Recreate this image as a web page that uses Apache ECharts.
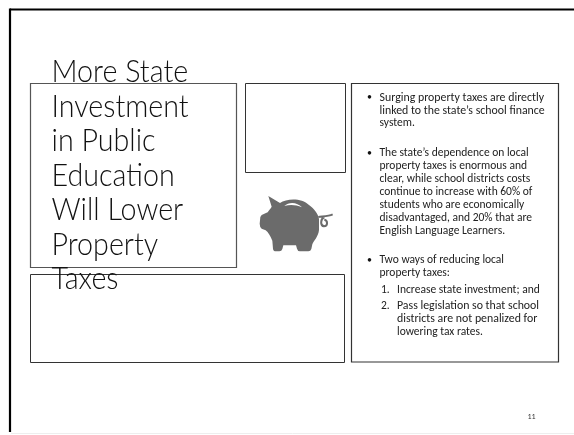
<!DOCTYPE html>
<html><head><meta charset="utf-8">
<style>html,body{margin:0;padding:0;background:#fff}#c{width:574px;height:435px}</style>
<script src="https://cdn.jsdelivr.net/npm/echarts@6/dist/echarts.min.js"></script>
</head><body><div id="c"></div>
<script>
const titleLines = ["More State","Investment","in Public","Education","Will Lower","Property","Taxes"];
const bulletOne = ["Surging property taxes are directly","linked to the state\u2019s school finance","system."];
const bulletTwo = ["The state\u2019s dependence on local","property taxes is enormous and","clear, while school districts costs","continue to increase with 60% of","students who are economically","disadvantaged, and 20% that are","English Language Learners."];
const bulletThree = ["Two ways of reducing local","property taxes:"];
const itemOne = ["Increase state investment; and"];
const itemTwo = ["Pass legislation so that school","districts are not penalized for","lowering tax rates."];
const pageNumber = "11";

const BODY = 'Carlito, Lato, "Open Sans", sans-serif';
const TITLE = 'Lato, "Open Sans", sans-serif';
const els = [];
function rect(x,y,w,h,c,lw){els.push({type:'rect',shape:{x,y,width:w,height:h},style:{fill:'none',stroke:c,lineWidth:lw}});}
function line(x1,y1,x2,y2,c,lw){els.push({type:'line',shape:{x1,y1,x2,y2},style:{stroke:c,lineWidth:lw}});}
function text(s,x,y,size,weight,color,sx,align){els.push({type:'text',x,y,originX:0,originY:0,scaleX:sx||1,style:{text:s,fill:color,font:`${weight} ${size}px ${size>20?TITLE:BODY}`,textAlign:align||'left',textVerticalAlign:'middle'}});}

// slide frame
line(10,9.5,574,9.5,'#000',2.2);
line(10,8.5,10,432,'#000',2.2);
line(11,433.5,574,433.5,'#eeeeee',1);

// placeholder boxes
rect(30.5,83.5,206,184,'#555',1.2);
rect(245.5,83.5,100,89,'#333',1);
rect(30.5,274.5,314,88,'#333',1);
rect(351.5,83.5,207,278.5,'#333',1.2);

// title
titleLines.forEach((s,i)=>text(s,51.5,72+i*34.55,31,300,'#111',0.925));

// bullets
const bx=379.5, dotx=367, FS=11.5, LH=12.95;
const put=(arr,y0,x0,sx)=>arr.forEach((s,i)=>text(s,x0,y0+i*LH,FS,400,'#222',sx[i]||1));
text('\u2022',dotx,97.5,10,400,'#111'); put(bulletOne,97.7,bx,[1.03,1.03,1]);
text('\u2022',dotx,153,10,400,'#111'); put(bulletTwo,153,bx,[]);
text('\u2022',dotx,260,10,400,'#111'); put(bulletThree,260,bx,[]);
text('1.',381,290.3,FS,400,'#222'); put(itemOne,290.3,397,[]);
text('2.',381,306.3,FS,400,'#222'); put(itemTwo,306.3,397,[1.03,1.03,1]);
text(pageNumber,531.5,417,8,400,'#333',1,'center');

// piggy bank
const PigBody=echarts.graphic.extendPath('M70 63 L105 84 C125 70 170 68 192 90 C208 102 219 116 222 132 L222 165 C220 185 206 198 202 208 L199 222 Q197 229 190 229 L165 229 Q158 229 156 221 L153 211 L115 211 L112 222 Q110 229 103 229 L93 229 Q85 229 84 221 L82 197 C76 183 70 172 62 166 L50 161 Q44 156 44 146 L46 126 Q48 118 58 116 L68 112 C72 105 78 100 80 95 Z');
const PigSlot=echarts.graphic.extendPath('M118 93 C132 79 157 81 171 97 C152 89 135 89 118 93 Z');
const PigTail=echarts.graphic.extendPath('M220 126 C232 124 250 124 263 118 M238 126 C226 132 225 152 237 154 C249 154 249 136 238 134');
echarts.graphic.registerShape('pigBody',PigBody);
echarts.graphic.registerShape('pigSlot',PigSlot);
echarts.graphic.registerShape('pigTail',PigTail);
const pigT={x:245,y:175,scaleX:1/3,scaleY:1/3};
els.push({type:'pigBody',...pigT,style:{fill:'#6b6b6b'}});
els.push({type:'pigSlot',...pigT,style:{fill:'#fff'}});
els.push({type:'pigTail',...pigT,style:{fill:'none',stroke:'#6b6b6b',lineWidth:6}});

const chart=echarts.init(document.getElementById('c'),null,{renderer:'canvas'});
chart.setOption({animation:false,backgroundColor:'#fff',graphic:{elements:els}});
</script></body></html>
